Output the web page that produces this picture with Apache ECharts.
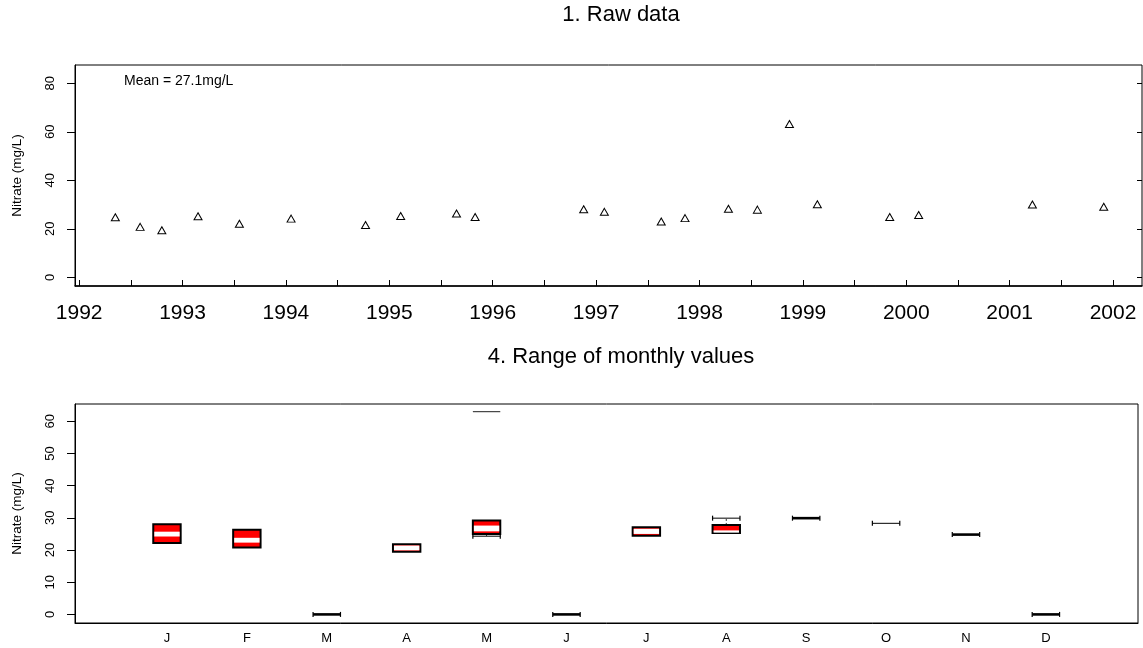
<!DOCTYPE html>
<html>
<head>
<meta charset="utf-8">
<script src="https://cdn.jsdelivr.net/npm/echarts@6/dist/echarts.min.js"></script>
<style>
  html, body { margin: 0; padding: 0; background: #fff; }
  #chart { width: 1143px; height: 648px; }
</style>
</head>
<body>
<div id="chart"></div>
<script>
// ---- Panel 1: individual nitrate samples ----
const sampleYears = [1992.35, 1992.59, 1992.80, 1993.15, 1993.55, 1994.05, 1994.77, 1995.11,
  1995.65, 1995.83, 1996.88, 1997.08, 1997.63, 1997.86, 1998.28, 1998.56, 1998.87, 1999.14,
  1999.84, 2000.12, 2001.22, 2001.91];
const nitrate = [24.8, 20.8, 19.4, 25.2, 22.1, 24.2, 21.6, 25.3, 26.3, 24.9, 28.1, 27.0,
  23.0, 24.4, 28.3, 27.9, 63.2, 30.1, 24.9, 25.7, 30.0, 29.1];
const yearLabels = ['1992', '1993', '1994', '1995', '1996', '1997', '1998', '1999', '2000', '2001', '2002'];
const rawTicks = [0, 20, 40, 60, 80];

// ---- Panel 4: spread of values by calendar month ----
const months = ['J', 'F', 'M', 'A', 'M', 'J', 'J', 'A', 'S', 'O', 'N', 'D'];
const boxLow      = [22.2, 20.8, 0, 19.5, 25.0, 0, 24.4, 25.3, 29.9, null, 24.8, 0];
const boxHigh     = [28.0, 26.3, 0, 21.8, 29.2, 0, 27.1, 27.8, 29.9, null, 24.8, 0];
const bandLow     = [24.2, 22.3, null, 19.9, 25.8, null, 25.0, 25.4, null, null, null, null];
const bandHigh    = [25.7, 23.8, null, 21.4, 27.6, null, 26.6, 26.1, null, null, null, null];
const whiskerLow  = [null, null, null, null, 24.3, null, null, null, null, null, null, null];
const whiskerHigh = [null, null, null, null, null, null, null, 29.9, null, 28.3, null, null];
const outlier     = [null, null, null, null, 63.0, null, null, null, null, null, null, null];
const monthTicks = [0, 10, 20, 30, 40, 50, 60];

const FONT = '"Liberation Sans", Arial, sans-serif';
const BOX_W = 0.343;  // box width in month units

const yearValues = yearLabels.map(Number);
const halfYearTicks = [];
yearValues.forEach((y, i) => {
  halfYearTicks.push(y);
  if (i < yearValues.length - 1) halfYearTicks.push((y + yearValues[i + 1]) / 2);
});
const meanValue = nitrate.reduce((a, b) => a + b, 0) / nitrate.length;

function renderMonth(params, api) {
  const i = params.dataIndex;
  const x = i + 1;
  const cx = api.coord([x, 0])[0];
  const half = api.size([BOX_W, 0])[0] / 2;
  const y = v => api.coord([x, v])[1];
  const kids = [];

  const capLine = (v, width) => {
    const yy = y(v);
    kids.push({ type: 'line', shape: { x1: cx - half, y1: yy, x2: cx + half, y2: yy },
      style: { stroke: '#000', lineWidth: width } });
    [cx - half, cx + half].forEach(xx => kids.push({ type: 'line',
      shape: { x1: xx, y1: yy - 2.5, x2: xx, y2: yy + 2.5 },
      style: { stroke: '#000', lineWidth: 1.2 } }));
  };
  const whisker = (from, to) => {
    kids.push({ type: 'line', shape: { x1: cx, y1: y(from), x2: cx, y2: y(to) },
      style: { stroke: '#333', lineWidth: 1, lineDash: [2, 2] } });
    capLine(to, 1);
  };

  const lo = boxLow[i], hi = boxHigh[i];
  if (lo != null && lo === hi) {
    capLine(lo, 2.6);
  } else if (lo != null) {
    if (whiskerLow[i] != null) whisker(lo, whiskerLow[i]);
    if (whiskerHigh[i] != null) whisker(hi, whiskerHigh[i]);
    const top = y(hi), bot = y(lo);
    kids.push({ type: 'rect', shape: { x: cx - half, y: top, width: half * 2, height: bot - top },
      style: { fill: '#ff0000', stroke: '#000', lineWidth: 2 } });
    if (bandLow[i] != null) {
      const bt = y(bandHigh[i]), bb = y(bandLow[i]);
      kids.push({ type: 'rect', shape: { x: cx - half + 1, y: bt, width: half * 2 - 2, height: bb - bt },
        style: { fill: '#ffffff' } });
    }
  } else if (whiskerHigh[i] != null) {
    capLine(whiskerHigh[i], 1);
  }
  if (outlier[i] != null) {
    const oy = y(outlier[i]);
    kids.push({ type: 'line', shape: { x1: cx - half, y1: oy, x2: cx + half, y2: oy },
      style: { stroke: '#444', lineWidth: 1.2 } });
  }
  return { type: 'group', children: kids };
}

const chart = echarts.init(document.getElementById('chart'), null, { renderer: 'canvas' });
const textBase = { color: '#000', fontFamily: FONT };

chart.setOption({
  animation: false,
  backgroundColor: '#fff',
  textStyle: { fontFamily: FONT },
  grid: [
    { left: 75, top: 65, width: 1067, height: 221, show: true, borderColor: '#000', borderWidth: 1 },
    { left: 75, top: 404, width: 1063, height: 219, show: true, borderColor: '#000', borderWidth: 1 }
  ],
  xAxis: [
    {
      type: 'value', gridIndex: 0, min: 1991.96, max: 2002.28,
      splitLine: { show: false },
      axisLine: { show: true, onZero: false, lineStyle: { color: '#000', width: 1.5 } },
      axisTick: { show: true, inside: true, length: 6, customValues: halfYearTicks, lineStyle: { color: '#000' } },
      axisLabel: { ...textBase, fontSize: 21, margin: 17, customValues: yearValues, formatter: v => String(v) }
    },
    {
      type: 'value', gridIndex: 1, min: -0.151, max: 13.153,
      splitLine: { show: false },
      axisLine: { show: true, onZero: false, lineStyle: { color: '#000', width: 1 } },
      axisTick: { show: false },
      axisLabel: { ...textBase, fontSize: 13, margin: 9, customValues: months.map((m, i) => i + 1),
        formatter: v => months[Math.round(v) - 1] }
    }
  ],
  yAxis: [
    {
      type: 'value', gridIndex: 0, position: 'left', min: -3.59, max: 87.57,
      name: 'Nitrate (mg/L)', nameLocation: 'middle', nameGap: 51,
      nameTextStyle: { ...textBase, fontSize: 13.5 },
      splitLine: { show: false },
      axisLine: { show: true, onZero: false, lineStyle: { color: '#000' } },
      axisTick: { show: true, length: 8, customValues: rawTicks, lineStyle: { color: '#000' } },
      axisLabel: { ...textBase, fontSize: 13, rotate: 90, margin: 18, customValues: rawTicks }
    },
    {
      type: 'value', gridIndex: 0, position: 'right', min: -3.59, max: 87.57,
      splitLine: { show: false },
      axisLine: { show: false, onZero: false },
      axisTick: { show: true, inside: true, length: 5, customValues: rawTicks, lineStyle: { color: '#000' } },
      axisLabel: { show: false }
    },
    {
      type: 'value', gridIndex: 1, position: 'left', min: -2.67, max: 65.37,
      name: 'Nitrate (mg/L)', nameLocation: 'middle', nameGap: 51,
      nameTextStyle: { ...textBase, fontSize: 13.5 },
      splitLine: { show: false },
      axisLine: { show: true, onZero: false, lineStyle: { color: '#000' } },
      axisTick: { show: true, length: 8, customValues: monthTicks, lineStyle: { color: '#000' } },
      axisLabel: { ...textBase, fontSize: 13, rotate: 90, margin: 18, customValues: monthTicks }
    }
  ],
  series: [
    {
      type: 'scatter', xAxisIndex: 0, yAxisIndex: 0,
      symbol: 'triangle', symbolSize: [8, 7],
      itemStyle: { color: '#fff', borderColor: '#000', borderWidth: 1, opacity: 1 },
      data: sampleYears.map((t, i) => [t, nitrate[i]])
    },
    {
      type: 'custom', xAxisIndex: 1, yAxisIndex: 2,
      renderItem: renderMonth,
      data: months.map((m, i) => [i + 1, boxHigh[i] != null ? boxHigh[i] : whiskerHigh[i]])
    }
  ],
  graphic: [
    { type: 'text', x: 621, y: 15, style: { text: '1. Raw data', fontSize: 22, fontFamily: FONT,
      fill: '#000', align: 'center', verticalAlign: 'middle' } },
    { type: 'text', x: 621, y: 357, style: { text: '4. Range of monthly values', fontSize: 22, fontFamily: FONT,
      fill: '#000', align: 'center', verticalAlign: 'middle' } },
    { type: 'text', x: 124, y: 81.5, style: { text: 'Mean = ' + meanValue.toFixed(1) + 'mg/L', fontSize: 14,
      fontFamily: FONT, fill: '#000', align: 'left', verticalAlign: 'middle' } }
  ]
});
</script>
</body>
</html>
